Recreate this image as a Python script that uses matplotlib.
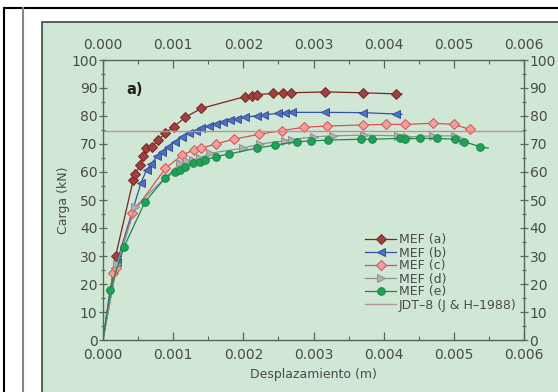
import matplotlib.pyplot as plt
from matplotlib.patches import Rectangle
from matplotlib.ticker import MultipleLocator

# desplazamiento (m) / carga (kN)
xa = [0, 0.00018, 0.00043, 0.00046, 0.00053, 0.00057, 0.00061, 0.00070, 0.00079, 0.00088, 0.00101,
      0.00117, 0.00140, 0.00202, 0.00212, 0.00220, 0.00242, 0.00257, 0.00268, 0.00317, 0.00370, 0.00418, 0.00426]
ya = [0, 30, 57.1, 59.3, 62.5, 65.7, 68.5, 69, 71.4, 73.8, 76.2,
      79.5, 82.7, 86.9, 87.3, 87.6, 88.1, 88.1, 88.3, 88.6, 88.3, 87.9, 87.9]

xb = [0, 0.00020, 0.00054, 0.00062, 0.00069, 0.00077, 0.00084, 0.00092, 0.00102, 0.00112, 0.00122, 0.00132,
      0.00140, 0.00151, 0.00161, 0.00171, 0.00181, 0.00191, 0.00202, 0.00219, 0.00230, 0.00250, 0.00260,
      0.00270, 0.00317, 0.00370, 0.00418, 0.00426]
yb = [0, 28, 56.0, 60.7, 62.9, 65.7, 67.3, 69.0, 70.8, 72.6, 73.8, 74.8,
      75.6, 76.4, 77.1, 77.9, 78.5, 79.0, 79.5, 80.1, 80.4, 81.0, 81.2,
      81.3, 81.3, 81.2, 80.7, 80.6]

xc = [0, 0.00014, 0.00019, 0.00042, 0.00089, 0.00113, 0.00130, 0.00140, 0.00161, 0.00186, 0.00223, 0.00255,
      0.00287, 0.00319, 0.00370, 0.00404, 0.00430, 0.00471, 0.00500, 0.00523, 0.00528]
yc = [0, 23.8, 25.6, 45.2, 61.3, 66.1, 67.9, 68.5, 70.0, 71.7, 73.5, 74.8,
      76.0, 76.4, 76.8, 77.0, 77.0, 77.4, 77.0, 75.2, 74.8]

xd = [0, 0.00020, 0.00046, 0.00110, 0.00120, 0.00128, 0.00138, 0.00153, 0.00199, 0.00224, 0.00260, 0.00270,
      0.00301, 0.00328, 0.00372, 0.00421, 0.00433, 0.00470, 0.00502, 0.00513, 0.00520]
yd = [0, 27, 47.6, 63.1, 63.8, 64.3, 65.0, 66.7, 68.5, 70.0, 71.2, 71.6,
      72.6, 72.9, 73.2, 72.9, 72.5, 72.9, 72.9, 71.6, 71.2]

xe = [0, 0.00010, 0.00030, 0.00060, 0.00088, 0.00102, 0.00110, 0.00117, 0.00128, 0.00138, 0.00145, 0.00161,
      0.00179, 0.00219, 0.00245, 0.00276, 0.00296, 0.00320, 0.00367, 0.00383, 0.00423, 0.00430, 0.00452,
      0.00476, 0.00501, 0.00515, 0.00538, 0.00549]
ye = [0, 17.9, 33.3, 49.4, 57.7, 60.1, 60.7, 61.9, 63.1, 63.7, 64.3, 65.5,
      66.4, 68.5, 69.6, 70.8, 71.1, 71.4, 71.7, 71.7, 72.0, 71.8, 72.0,
      72.0, 71.7, 70.8, 69.0, 68.5]

jdt = 74.5

series = [
    (xa, ya, 'MEF (a)', '#7a2424', '#a04040', 'D', 5.0),
    (xb, yb, 'MEF (b)', '#3550a0', '#5070c0', '<', 5.5),
    (xc, yc, 'MEF (c)', '#d85050', '#f0a0a0', 'D', 5.0),
    (xd, yd, 'MEF (d)', '#909090', '#b0b0b0', '>', 5.5),
    (xe, ye, 'MEF (e)', '#178a48', '#20a058', 'o', 5.5),
]

green = '#d1e7d5'
dark = '#56665a'
txt = '#4a4a4a'

fig = plt.figure(figsize=(5.58, 3.92), dpi=100)
fig.patch.set_facecolor('white')
W, H = 558.0, 392.0
# scan frame
fig.add_artist(Rectangle((42 / W, -0.01), 1, 1 - 22 / H + 0.01, transform=fig.transFigure,
                         facecolor=green, edgecolor='#3a4a40', lw=1.2, zorder=-5))
fig.add_artist(plt.Line2D([4 / W, 1], [1 - 8 / H] * 2, transform=fig.transFigure, color='black', lw=1.5, zorder=-5))
fig.add_artist(plt.Line2D([4 / W] * 2, [0, 1 - 8 / H], transform=fig.transFigure, color='black', lw=1.5, zorder=-5))
fig.add_artist(plt.Line2D([23 / W] * 2, [0, 1 - 8 / H], transform=fig.transFigure, color='#888888', lw=1.5, zorder=-5))

ax = fig.add_axes([103 / W, 1 - 340 / H, 421 / W, 280 / H])
ax.set_facecolor('none')

for x, y, lab, lc, fc, mk, ms in series:
    ax.plot(x, y, color=lc, lw=0.9, marker=mk, markersize=ms, markerfacecolor=fc,
            markeredgecolor=lc, markeredgewidth=0.7, markevery=list(range(1, len(x) - 1)), label=lab)
ax.axhline(jdt, color='#b09a90', lw=1.0, label='JDT\u20138 (J & H\u20131988)')

ax.set_xlim(0, 0.006)
ax.set_ylim(0, 100)
ax.xaxis.set_major_locator(MultipleLocator(0.001))
ax.xaxis.set_minor_locator(MultipleLocator(0.0005))
ax.yaxis.set_major_locator(MultipleLocator(10))
ax.yaxis.set_minor_locator(MultipleLocator(5))
ax.xaxis.set_major_formatter(lambda v, p: f'{v:.3f}')

for s in ax.spines.values():
    s.set_color(dark)
    s.set_linewidth(1.0)
ax.tick_params(axis='x', which='both', direction='in', top=True, labeltop=True, colors=dark, labelcolor=txt,
               labelsize=10, pad=6)
ax.tick_params(axis='y', which='both', direction='inout', right=True, labelright=True, colors=dark,
               labelcolor=txt, labelsize=10, pad=1)
ax.tick_params(which='major', length=6, width=0.9)
ax.tick_params(which='minor', length=3, width=0.8)

ax.set_xlabel('Desplazamiento (m)', fontsize=9, color=txt, labelpad=4)
ax.set_ylabel('Carga (kN)', fontsize=9, color=txt, labelpad=1)
ax.text(0.055, 0.88, 'a)', transform=ax.transAxes, fontsize=10.5, fontweight='bold', color='#222222')

leg = ax.legend(loc='lower right', bbox_to_anchor=(1.0, 0.075), frameon=False, fontsize=9,
                handlelength=2.5, handletextpad=0.2, labelspacing=0.0, borderpad=0.1, labelcolor=txt)

fig.savefig('out.png', dpi=100)
